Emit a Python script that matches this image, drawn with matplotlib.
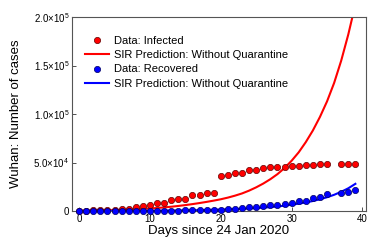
import matplotlib
matplotlib.use('Agg')
import matplotlib.pyplot as plt
from matplotlib.ticker import FixedLocator

plt.rcParams['font.family'] = ['Liberation Sans', 'DejaVu Sans']
plt.rcParams['mathtext.fontset'] = 'custom'
plt.rcParams['mathtext.rm'] = 'Liberation Sans'
plt.rcParams['mathtext.it'] = 'Liberation Sans'

# observed data (day 36 missing)
data_days = [d for d in range(40) if d != 36]
infected = [400, 500, 600, 800, 1000, 1500, 1700, 2300, 4000, 4800,
            5800, 7900, 8000, 11300, 12700, 12700, 16500, 16600, 18900, 18900,
            35700, 37500, 38800, 39000, 42300, 42300, 44600, 44900, 44900, 44900,
            46400, 46700, 47100, 47800, 48100, 48100,
            48800, 48800, 48800]
recovered = [30, 40, 50, 60, 80, 100, 120, 150, 180, 220,
             300, 350, 400, 450, 500, 600, 700, 800, 950, 1100,
             1400, 1700, 2000, 2800, 3800, 4100, 5500, 5800, 6200, 6900,
             7900, 10000, 10300, 13400, 14400, 17200,
             18900, 19600, 21300]

# SIR model predictions
model_days = list(range(40))
sir_infected = [300, 400, 500, 600, 750, 900, 1100, 1400, 1800, 2200,
                2600, 3100, 3700, 4400, 5200, 6100, 7100, 8200, 9400, 10700,
                12100, 13800, 15800, 18100, 21000, 24400, 28300, 32800, 38000, 44300,
                51800, 60500, 71000, 83000, 97000, 113000, 132000, 155000, 182000, 213000]
sir_recovered = [0, 10, 20, 30, 40, 60, 80, 100, 130, 170,
                 220, 280, 350, 430, 520, 630, 750, 900, 1050, 1250,
                 1450, 1700, 1950, 2200, 2600, 3000, 3500, 4000, 4700, 5500,
                 6500, 7600, 8800, 10300, 12100, 14200, 16700, 19800, 23400, 28000]

fig = plt.figure(figsize=(3.74, 2.49), dpi=100)
ax = fig.add_axes([0.1925, 0.1526, 0.7861, 0.7791])

ax.plot(data_days, infected, 'o', color='red', mec='#600000', mew=0.5, ms=4.5,
        label='Data: Infected', clip_on=False, zorder=3)
ax.plot(model_days, sir_infected, '-', color='red', lw=1.5,
        label='SIR Prediction: Without Quarantine')
ax.plot(data_days, recovered, 'o', color='blue', mec='#000060', mew=0.5, ms=4.5,
        label='Data: Recovered', clip_on=False, zorder=3)
ax.plot(model_days, sir_recovered, '-', color='blue', lw=1.5,
        label='SIR Prediction: Without Quarantine')

ax.set_xlim(-1, 40.5)
ax.set_ylim(0, 2e5)
ax.xaxis.set_major_locator(FixedLocator([0, 10, 20, 30, 40]))
ax.yaxis.set_major_locator(FixedLocator([0, 5e4, 1e5, 1.5e5, 2e5]))
ax.set_yticklabels(['0', r'$5.0{\times}10^4$', r'$1.0{\times}10^5$',
                    r'$1.5{\times}10^5$', r'$2.0{\times}10^5$'])
ax.tick_params(direction='in', labelsize=7, length=3, width=0.6, colors='#333333',
               labelcolor='black', pad=2)
for s in ax.spines.values():
    s.set_color('#555555')
    s.set_linewidth(0.8)

ax.set_xlabel('Days since 24 Jan 2020', fontsize=9.5, labelpad=1)
ax.set_ylabel('Wuhan: Number of cases', fontsize=9.5, labelpad=8)

ax.legend(loc='upper left', frameon=False, fontsize=8, handlelength=2.1,
          handletextpad=0.45, labelspacing=0.38, borderaxespad=0.0,
          bbox_to_anchor=(0.03, 0.925))

fig.savefig('out.png', dpi=100)
